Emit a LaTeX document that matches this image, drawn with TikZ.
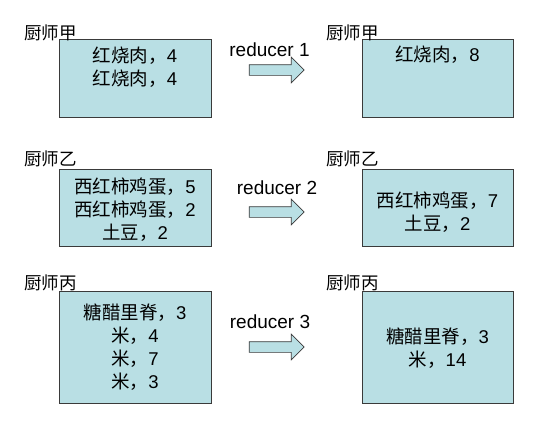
\documentclass[tikz,border=0pt]{standalone}
\usepackage{fontspec}
\setmainfont{Liberation Sans}
\newfontfamily\cjk{Noto Sans CJK SC}
\usetikzlibrary{shapes.arrows}
\definecolor{boxfill}{HTML}{B9DFE4}
\definecolor{boxline}{HTML}{3A3A3A}
\newcommand{\cn}[1]{{\cjk #1}}

\begin{document}
\begin{tikzpicture}[x=1pt,y=-1pt,
    box/.style={draw=boxline, fill=boxfill, line width=0.9pt, inner sep=0pt},
    items/.style={align=center, font=\fontsize{18.5}{23}\selectfont, inner sep=0pt},
    cook/.style={anchor=west, font=\fontsize{17.5}{20}\selectfont\cjk, inner sep=0pt},
    stage/.style={font=\fontsize{19}{20}\selectfont, inner sep=0pt},
    blockarrow/.style={single arrow, draw=boxline, fill=boxfill, line width=0.7pt,
      inner xsep=0pt, inner ysep=5pt, minimum height=55pt,
      single arrow head extend=7.5pt}]
  \useasboundingbox (0,0) rectangle (549,421);

  % map side
  \node[box, minimum width=152pt, minimum height=78pt] (mapA) at (135,78) {};
  \node[box, minimum width=152pt, minimum height=77pt] (mapB) at (135,208) {};
  \node[box, minimum width=152pt, minimum height=112pt] (mapC) at (135,347) {};
  \node[cook] (cookA) at (24,33) {厨师甲};
  \node[cook] (cookB) at (24,159) {厨师乙};
  \node[cook] (cookC) at (24,283) {厨师丙};
  \node[items] (listA) at (135,67.5) {\cn{红烧肉，}4\\\cn{红烧肉，}4};
  \node[items] (listB) at (135,210) {\cn{西红柿鸡蛋，}5\\\cn{西红柿鸡蛋，}2\\\cn{土豆，}2};
  \node[items] (listC) at (135,347.5) {\cn{糖醋里脊，}3\\\cn{米，}4\\\cn{米，}7\\\cn{米，}3};

  % reducers
  \node[stage] (redA) at (269.5,50) {reducer 1};
  \node[stage] (redB) at (277,188) {reducer 2};
  \node[stage] (redC) at (270,322) {reducer 3};
  \node[blockarrow] (arrA) at (274,70) {};
  \node[blockarrow] (arrB) at (274,212) {};
  \node[blockarrow] (arrC) at (274,347) {};

  % reduce side
  \node[box, minimum width=151pt, minimum height=78pt] (sumA) at (437.5,78) {};
  \node[box, minimum width=151pt, minimum height=77pt] (sumB) at (437.5,208) {};
  \node[box, minimum width=151pt, minimum height=112pt] (sumC) at (437.5,347) {};
  \node[cook] (cookA2) at (326,33) {厨师甲};
  \node[cook] (cookB2) at (326,159) {厨师乙};
  \node[cook] (cookC2) at (326,283) {厨师丙};
  \node[items] (totA) at (437.5,55) {\cn{红烧肉，}8};
  \node[items] (totB) at (437.5,212) {\cn{西红柿鸡蛋，}7\\\cn{土豆，}2};
  \node[items] (totC) at (437.5,348) {\cn{糖醋里脊，}3\\\cn{米，}14};
\end{tikzpicture}
\end{document}
